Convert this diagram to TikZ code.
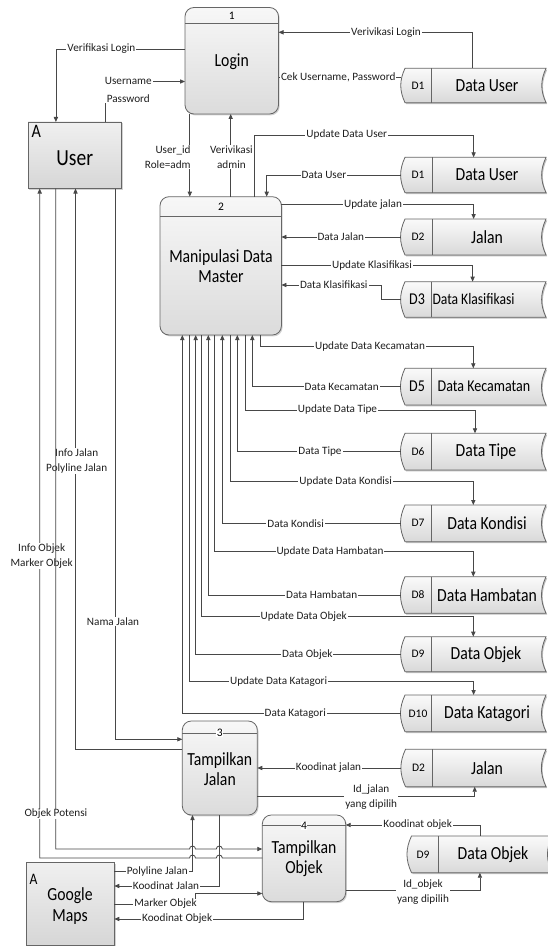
\documentclass[tikz,border=0pt]{standalone}
\usepackage{fontspec}
\setmainfont{Carlito}
\newfontfamily\bigf{Carlito}[FakeStretch=0.85]
\usetikzlibrary{arrows.meta,shadows}

\newcommand\mkstore[6]{%
  \node[inner sep=0,outer sep=0,minimum width={(#3-#2)*1pt},minimum height={(#5-#4)*1pt}] (#1) at ({(#2+#3)/2},{(#4+#5)/2}) {};
  \fill[black,opacity=.25,transform canvas={shift={(1.2pt,-1.4pt)}}] (#1.north west) -- (#1.north east) to[bend right=25] (#1.south east) -- (#1.south west) to[bend left=25] (#1.north west) -- cycle;
  \draw[storeshape] (#1.north west) -- (#1.north east) to[bend right=25] (#1.south east) -- (#1.south west) to[bend left=25] (#1.north west) -- cycle;
  \draw[divline] (#1.north -| #6,0) -- (#1.south -| #6,0);
  \coordinate (#1-w) at ([xshift=-4.5pt]#1.west);
}
\newcommand\upd[4]{\draw[arr] (p2.south -| #1,0) -- (#1,#2) -| (#3.north -| #4,0);}
\newcommand\dat[2]{\draw[arr] (#1-w) -| (p2.south -| #2,0);}

\begin{document}
\begin{tikzpicture}[x=1pt,y=-1pt,
  ln/.style={draw=black!72, line width=0.8pt},
  arr/.style={ln, -{Triangle[length=5pt,width=4.2pt]}},
  lbl/.style={fill=white, inner xsep=1pt, inner ysep=0.6pt, font=\fontsize{11.2}{15}\selectfont, align=center, text=black!88},
  procbox/.style={draw=black!60, line width=0.8pt, rounded corners=9pt, top color=gray!6, bottom color=gray!28,
     drop shadow={shadow xshift=1.2pt, shadow yshift=-1.4pt, opacity=.35}, inner sep=0, outer sep=0},
  entbox/.style={draw=black!60, line width=0.8pt, top color=gray!12, bottom color=gray!32,
     drop shadow={shadow xshift=1.2pt, shadow yshift=-1.4pt, opacity=.35}, inner sep=0, outer sep=0},
  storeshape/.style={draw=black!60, line width=0.8pt, top color=gray!4, bottom color=gray!30},
  divline/.style={draw=black!60, line width=0.8pt},
  hdr/.style={draw=black!60, line width=0.8pt},
  numt/.style={font=\fontsize{11.5}{12}\selectfont, inner sep=0.4pt},
  ptext/.style={font=\bigf\fontsize{18.5}{20}\selectfont, align=center, inner sep=0},
  sid/.style={font=\fontsize{11.5}{12}\selectfont, inner sep=0},
  sidb/.style={font=\bigf\fontsize{16.5}{17}\selectfont, inner sep=0},
  sname/.style={font=\bigf\fontsize{18.5}{19}\selectfont, inner sep=0}
]
\fill[white] (0,0) rectangle (548,947);
\path[use as bounding box] (0,0) rectangle (548,947);

% ---------- processes ----------
\node[procbox, minimum width=93.5pt, minimum height=106.5pt] (p1) at (231.75,60.75) {};
\node[procbox, minimum width=121.4pt, minimum height=138.3pt] (p2) at (220.7,265.85) {};
\node[procbox, minimum width=75pt, minimum height=94pt] (p3) at (219.8,768) {};
\node[procbox, minimum width=83.4pt, minimum height=86.7pt] (p4) at (304,858.35) {};
\draw[hdr] (p1.west |- 0,23.3) -- (p1.east |- 0,23.3);
\draw[hdr] (p2.west |- 0,216.7) -- (p2.east |- 0,216.7);
\draw[hdr] (p3.west |- 0,733) -- (p3.east |- 0,733);
\draw[hdr] (p4.west |- 0,825.7) -- (p4.east |- 0,825.7);
\node[numt] (p1n) at (231.7,15.5) {1};
\node[numt] (p2n) at (221,207) {2};
\node[numt, fill=white] (p3n) at (219.8,733) {3};
\node[numt, fill=white] (p4n) at (304,826) {4};
\node[ptext, anchor=base] (p1t) at (231.7,66.7) {Login};
\node[ptext] (p2t) at (221,266.5) {Manipulasi Data\\Master};
\node[ptext] (p3t) at (219.8,768.9) {Tampilkan\\Jalan};
\node[ptext] (p4t) at (304,858.3) {Tampilkan\\Objek};

% ---------- external entities ----------
\node[entbox, minimum width=93.7pt, minimum height=66.5pt] (user) at (74.85,155.25) {};
\node[entbox, minimum width=88.1pt, minimum height=82.3pt] (maps) at (70.25,903.85) {};
\node[font=\bigf\fontsize{23}{23}\selectfont, anchor=base, inner sep=0] (usert) at (74.7,165) {User};
\node[font=\bigf\fontsize{19}{19}\selectfont, anchor=base west, inner sep=0] (usera) at (31.5,137.3) {A};
\node[font=\bigf\fontsize{16}{16}\selectfont, anchor=base west, inner sep=0] (mapsa) at (29.5,884.5) {A};
\node[ptext, font=\bigf\fontsize{18.5}{21}\selectfont] (mapst) at (70,905.7) {Google\\Maps};

% ---------- data stores ----------
\mkstore{d1a}{405}{546}{68.3}{102.7}{431.5}
\mkstore{d1b}{405}{546}{157.3}{192.7}{432}
\mkstore{d2a}{405}{546}{219}{255}{432}
\mkstore{d3}{405}{546}{281.7}{317.3}{431}
\mkstore{d5}{405}{546}{368.3}{405}{431.7}
\mkstore{d6}{405}{546}{433.3}{470}{431.7}
\mkstore{d7}{405}{546}{505}{541.7}{431.7}
\mkstore{d8}{405}{546}{576.7}{613.3}{431.7}
\mkstore{d9a}{405}{546}{636.7}{671.7}{431.7}
\mkstore{d10}{405}{546}{695}{731.7}{431.7}
\mkstore{d2b}{405.5}{546}{749.3}{786.7}{432.4}
\mkstore{d9b}{411.5}{552}{836}{872.7}{438.7}

\node[sid] at (418,85.5) {D1};   \node[sname] at (487,85.5) {Data User};
\node[sid] at (418,175) {D1};    \node[sname] at (487,175) {Data User};
\node[sid] at (418,237) {D2};    \node[sname] at (487,237) {Jalan};
\node[sidb] at (417,299.5) {D3}; \node[sname, font=\bigf\fontsize{16}{17}\selectfont, anchor=west] at (432.3,299.5) {Data Klasifikasi};
\node[sidb] at (417,386.7) {D5}; \node[sname, font=\bigf\fontsize{16.5}{17}\selectfont] at (484,386.7) {Data Kecamatan};
\node[sid] at (418,451.7) {D6};  \node[sname] at (486,451.7) {Data Tipe};
\node[sid] at (418,523.3) {D7};  \node[sname] at (487,523.3) {Data Kondisi};
\node[sid] at (418,595) {D8};    \node[sname] at (487,595) {Data Hambatan};
\node[sid] at (418,654.2) {D9};  \node[sname] at (486,654.2) {Data Objek};
\node[sid] at (418,713.3) {D10}; \node[sname] at (487,713.3) {Data Katagori};
\node[sid] at (418.5,768) {D2};  \node[sname] at (487,768) {Jalan};
\node[sid] at (423,854.3) {D9};  \node[sname] at (493,854.3) {Data Objek};

% ---------- flows around Login ----------
\draw[arr] (d1a.north -| 472.6,0) |- (p1.east |- 0,32.3);
\draw[ln] (p1.east |- 0,77.7) -- (d1a-w |- 0,77.7);
\draw[arr] (p1.west |- 0,49) -| (user.north -| 55.9,0);
\draw[arr] (user.north -| 104.9,0) |- (p1.west |- 0,81.5);
\draw[arr] (p1.south -| 189.8,0) -- (p2.north -| 189.8,0);
\draw[arr] (p2.north -| 230.7,0) -- (p1.south -| 230.7,0);

% ---------- flows of process 2 ----------
\draw[arr] (p2.north -| 254.5,0) -- (254.5,135) -| (d1b.north -| 473.6,0);
\draw[arr] (d1b-w) -| (p2.north -| 266.7,0);
\draw[arr] (p2.east |- 0,204.3) -| (d2a.north -| 473.6,0);
\draw[arr] (d2a-w) -- (p2.east |- d2a-w);
\draw[arr] (p2.east |- 0,265.7) -| (d3.north -| 472.6,0);
\draw[arr] (d3-w) -- (381,299.5) |- (p2.east |- 0,285);
\upd{260}{346.7}{d5}{473.3}
\dat{d5}{252.3}
\upd{245.7}{410}{d6}{475}
\dat{d6}{237.3}
\upd{230}{481.7}{d7}{473.3}
\dat{d7}{222.3}
\upd{214.3}{551.7}{d8}{473.3}
\dat{d8}{208.3}
\upd{201.7}{616.7}{d9a}{473.3}
\dat{d9a}{195.7}
\upd{189}{681.7}{d10}{473.6}
\dat{d10}{182.3}

% ---------- flows of processes 3 and 4 ----------
\draw[arr] (user.south -| 115,0) |- (p3.west |- 0,739.3);
\draw[arr] (p3.west |- 0,749) -| (user.south -| 75.5,0);
\draw[arr] (d2b-w) -- (p3.east |- d2b-w);
\draw[arr] (p3.east |- 0,796.7) -| (d2b.south -| 474.7,0);
\draw[arr] (maps.east |- 0,871.7) -| (p3.south -| 192.5,0);
\draw[arr] (p3.south -| 219.3,0) |- (maps.east |- 0,886);
\draw[arr] (maps.east |- 0,904) -- (195.7,904) |- (p4.west |- 0,893.5);
\draw[arr] (p4.south -| 303.4,0) |- (maps.east |- 0,919);
\draw[arr] (d9b.north -| 479.9,0) |- (p4.east |- 0,825);
\draw[arr] (p4.east |- 0,890.5) -| (d9b.south -| 479.9,0);
\draw[arr] (p4.west |- 0,858) -- (222.3,858) arc[start angle=0,end angle=180,radius=3pt]
   -- (195.5,858) arc[start angle=0,end angle=180,radius=3pt] -- (39.7,858) -- (user.south -| 39.7,0);

% ---------- labels ----------
\node[lbl] at (386,32.3) {Verivikasi Login};
\node[lbl] at (338.2,77.7) {Cek Username, Password};
\node[lbl] at (101.4,49) {Verifikasi Login};
\node[lbl, font=\fontsize{11.2}{18}\selectfont] at (128.3,89.5) {Username\\Password};
\node[lbl, align=right, anchor=east] at (191.8,156.8) {User\_id\\Role=adm};
\node[lbl] at (231.4,156.8) {Verivikasi\\admin};
\node[lbl] at (346.8,135) {Update Data User};
\node[lbl] at (324,175) {Data User};
\node[lbl] at (373,204.3) {Update jalan};
\node[lbl] at (340.8,237) {Data Jalan};
\node[lbl] at (372,265.7) {Update Klasifikasi};
\node[lbl] at (333.8,285) {Data Klasifikasi};
\node[lbl] at (370,346.7) {Update Data Kecamatan};
\node[lbl] at (341.7,386.7) {Data Kecamatan};
\node[lbl] at (337.5,410) {Update Data Tipe};
\node[lbl] at (320,451.7) {Data Tipe};
\node[lbl] at (345.7,481.7) {Update Data Kondisi};
\node[lbl] at (295.7,523.3) {Data Kondisi};
\node[lbl] at (330,551.7) {Update Data Hambatan};
\node[lbl] at (321.7,595) {Data Hambatan};
\node[lbl] at (303.7,616.7) {Update Data Objek};
\node[lbl] at (307.3,654.2) {Data Objek};
\node[lbl] at (278.6,681.7) {Update Data Katagori};
\node[lbl] at (295.3,713.3) {Data Katagori};
\node[lbl] at (113,621.7) {Nama Jalan};
\node[lbl] at (76.7,461.3) {Info Jalan\\Polyline Jalan};
\node[lbl] at (41.7,555.8) {Info Objek\\Marker Objek};
\node[lbl] at (328.5,768) {Koodinat jalan};
\node[lbl] at (371.2,796.7) {Id\_jalan\\yang dipilih};
\node[lbl] at (157.3,871.7) {Polyline Jalan};
\node[lbl] at (166,886) {Koodinat Jalan};
\node[lbl] at (165.5,904) {Marker Objek};
\node[lbl] at (177.2,919) {Koodinat Objek};
\node[lbl] at (417.7,825) {Koodinat objek};
\node[lbl] at (423,892) {Id\_objek\\yang dipilih};

% Objek Potensi drawn last (it passes over the two info labels)
\draw[arr] (user.south -| 55.7,0) -- (55.7,849) -- (189.5,849) arc[start angle=180,end angle=0,radius=3pt]
   -- (216.3,849) arc[start angle=180,end angle=0,radius=3pt] -- (p4.west |- 0,849);
\node[lbl] at (55.9,814) {Objek Potensi};
\end{tikzpicture}
\end{document}
